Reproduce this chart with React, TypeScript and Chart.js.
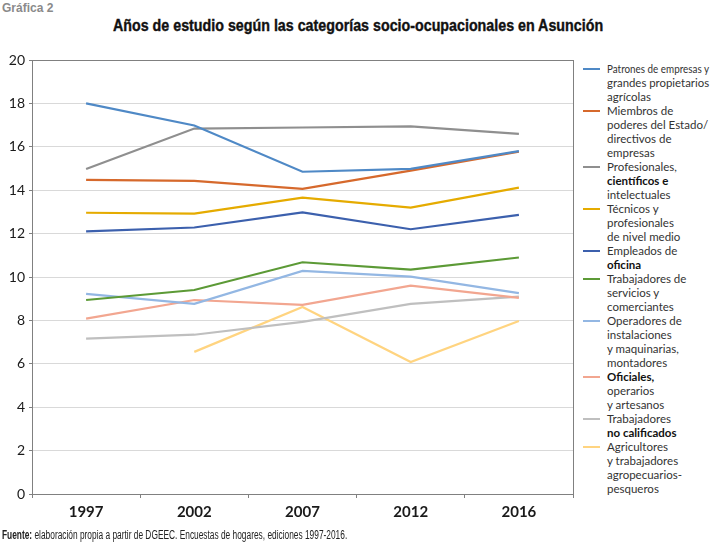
import React, { useEffect, useLayoutEffect, useRef } from "react";
import { Chart, registerables } from "chart.js";

Chart.register(...registerables);

const years = ["1997", "2002", "2007", "2012", "2016"];
const yTicks = [0, 2, 4, 6, 8, 10, 12, 14, 16, 18, 20];

const patrones = [18.0, 16.98, 14.85, 14.98, 15.8];
const miembros = [14.48, 14.43, 14.06, 14.9, 15.78];
const profesionales = [14.98, 16.84, 16.89, 16.94, 16.6];
const tecnicos = [12.96, 12.92, 13.66, 13.2, 14.12];
const empleados = [12.1, 12.28, 12.98, 12.2, 12.86];
const servicios = [8.94, 9.4, 10.68, 10.34, 10.9];
const operadores = [9.22, 8.76, 10.28, 10.02, 9.26];
const oficiales = [8.08, 8.94, 8.72, 9.6, 9.04];
const noCalificados = [7.16, 7.34, 7.93, 8.76, 9.1];
const agricultores = [null, 6.55, 8.62, 6.08, 7.97];

const seriesData = [patrones, miembros, profesionales, tecnicos, empleados, servicios, operadores, oficiales, noCalificados, agricultores];
const seriesColors = ["#4f89c6", "#d6692c", "#8f8f8f", "#e5ab00", "#3c60ad", "#5c9a36", "#93b7e3", "#f2a690", "#bfbfbf", "#ffd480"];
const seriesLabels: string[][] = [
  ["Patrones de empresas y", "grandes propietarios", "agrícolas"],
  ["Miembros de", "poderes del Estado/", "directivos de", "empresas"],
  ["Profesionales,", "*científicos e", "intelectuales"],
  ["Técnicos y", "profesionales", "de nivel medio"],
  ["Empleados de", "*oficina"],
  ["Trabajadores de", "servicios y", "comerciantes"],
  ["Operadores de", "instalaciones", "y maquinarias,", "montadores"],
  ["*Oficiales,", "operarios", "y artesanos"],
  ["Trabajadores", "*no calificados"],
  ["Agricultores", "y trabajadores", "agropecuarios-", "pesqueros"],
];

const frame = {
  id: "frame",
  afterDatasetsDraw(chart: any) {
    const { ctx, chartArea: a } = chart;
    ctx.save();
    ctx.strokeStyle = "#808080";
    ctx.lineWidth = 1;
    ctx.strokeRect(Math.round(a.left) + 0.5, Math.round(a.top) + 0.5, Math.round(a.right - a.left), Math.round(a.bottom - a.top));
    ctx.restore();
  },
};

function Fit({ width, maxOnly, origin, style, children }: any) {
  const r = useRef<HTMLSpanElement>(null);
  useLayoutEffect(() => {
    const el = r.current!;
    el.style.transform = "none";
    const w = el.offsetWidth;
    let s = width / w;
    if (maxOnly && s > 1) s = 1;
    el.style.transform = `scaleX(${s})`;
  });
  return (
    <span ref={r} style={{ display: "inline-block", whiteSpace: "nowrap", transformOrigin: origin || "left center", ...style }}>
      {children}
    </span>
  );
}

export default function App() {
  const ref = useRef<HTMLCanvasElement>(null);
  useEffect(() => {
    const chart = new Chart(ref.current!, {
      type: "line",
      data: {
        labels: years,
        datasets: seriesData.map((d, i) => ({
          label: seriesLabels[i].join(" ").replace(/\*/g, ""),
          data: d as any,
          borderColor: seriesColors[i],
          backgroundColor: seriesColors[i],
          borderWidth: 2.2,
          pointRadius: 0,
          tension: 0,
          fill: false,
        })),
      },
      options: {
        responsive: false,
        animation: false,
        layout: { padding: { top: 60, right: 5, left: 0, bottom: 0 } },
        plugins: { legend: { display: false }, title: { display: false }, tooltip: { enabled: false } },
        scales: {
          x: {
            offset: true,
            afterFit: (s: any) => { s.height = 53; },
            border: { display: true, color: "#808080" },
            grid: { display: true, drawOnChartArea: false, drawTicks: true, tickLength: 4, offset: true, color: "#808080" },
            ticks: { padding: 5, color: "#1a1a1a", font: { family: "Lato", size: 15, weight: "bold" } },
          },
          y: {
            min: 0,
            max: 20,
            afterFit: (s: any) => { s.width = 32; },
            afterBuildTicks: (s: any) => { s.ticks = yTicks.map((v) => ({ value: v })); },
            border: { display: true, color: "#808080" },
            grid: { color: "#d9d9d9", tickColor: "#808080", tickLength: 3 },
            ticks: { padding: 4, color: "#1a1a1a", font: { family: "Lato", size: 14 } },
          },
        },
      },
      plugins: [frame],
    });
    return () => chart.destroy();
  }, []);

  const narrow = "'Liberation Sans', Arial, sans-serif";
  return (
    <div style={{ position: "absolute", left: 0, top: 0, width: 712, height: 547, background: "#fff", overflow: "hidden" }}>
      <div style={{ position: "absolute", left: 2, top: -1, lineHeight: "16px" }}>
        <Fit width={51} style={{ fontFamily: narrow, fontWeight: "bold", fontSize: 12, color: "#8a8a8a" }}>Gráfica 2</Fit>
      </div>
      <div style={{ position: "absolute", left: 113, top: 14, lineHeight: "24px" }}>
        <Fit width={490} style={{ fontFamily: narrow, fontWeight: "bold", fontSize: 17, color: "#111", WebkitTextStroke: "0.4px #111" }}>
          Años de estudio según las categorías socio-ocupacionales en Asunción
        </Fit>
      </div>
      <canvas ref={ref} width={578} height={547} style={{ position: "absolute", left: 0, top: 0, width: 578, height: 547 }} />
      <div style={{ position: "absolute", left: 583, top: 62, width: 129, fontFamily: "Lato, sans-serif", fontSize: 11.5, lineHeight: "14px", color: "#333" }}>
        {seriesLabels.map((lines, i) => (
          <div key={i} style={{ position: "relative", paddingLeft: 24 }}>
            <span style={{ position: "absolute", left: 0, top: 6, width: 17, height: 2, background: seriesColors[i] }} />
            {lines.map((l, j) => (
              <div key={j} style={{ whiteSpace: "nowrap", height: 14 }}>
                <Fit width={102} maxOnly style={{ fontWeight: l.startsWith("*") ? 700 : 400, color: l.startsWith("*") ? "#111" : "#333" }}>{l.replace("*", "")}</Fit>
              </div>
            ))}
          </div>
        ))}
      </div>
      <div style={{ position: "absolute", left: 2, top: 527, lineHeight: "14px" }}>
        <Fit width={345} style={{ fontFamily: narrow, fontSize: 12, color: "#222" }}>
          <b>Fuente:</b> elaboración propia a partir de DGEEC. Encuestas de hogares, ediciones 1997-2016.
        </Fit>
      </div>
    </div>
  );
}
